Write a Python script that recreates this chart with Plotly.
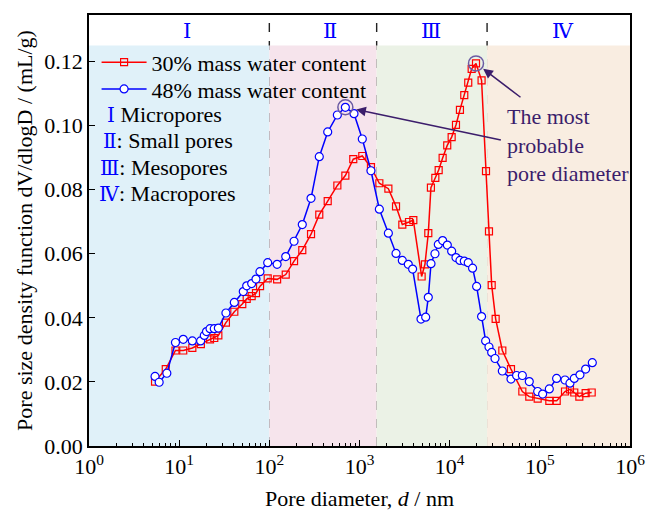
import numpy as np
import plotly.graph_objects as go

# Pore size distribution, 30 % mass water content
d_30 = [5.4, 7.1, 9.1, 11.1, 14.0, 17.4, 22.0, 24.5, 27.2, 33.0, 40.9, 50.1, 56.1, 63.7,
        71.1, 78.9, 95.9, 122, 152, 188, 232, 290, 358, 444, 568, 697, 853, 1074, 1340,
        1660, 2090, 2541, 2985, 3540, 3954, 4887, 5321, 5794, 6194, 6934, 7551, 8356,
        9397, 10520, 11750, 13000, 14520, 16070, 17540, 19590, 22590, 25290, 27290,
        29240, 32360, 38370, 47860, 63970, 76380, 94620, 127400, 153800, 190100,
        215800, 241000, 274200, 322100, 375800]
f_30 = [0.0201, 0.0240, 0.0298, 0.0298, 0.0306, 0.0318, 0.0333, 0.0337, 0.0345, 0.0385,
        0.0419, 0.0443, 0.0459, 0.0468, 0.0477, 0.0499, 0.0523, 0.0520, 0.0535, 0.0577,
        0.0611, 0.0661, 0.0722, 0.0764, 0.0813, 0.0844, 0.0895, 0.0905, 0.0870, 0.0820,
        0.0803, 0.0748, 0.0691, 0.0699, 0.0705, 0.0529, 0.0567, 0.0664, 0.0806, 0.0837,
        0.0861, 0.0899, 0.0938, 0.0964, 0.1002, 0.1049, 0.1095, 0.1134, 0.1177, 0.1194,
        0.1141, 0.0858, 0.0670, 0.0502, 0.0397, 0.0298, 0.0240, 0.0170, 0.0154, 0.0148,
        0.0141, 0.0141, 0.0170, 0.0177, 0.0167, 0.0154, 0.0165, 0.0167]

# Pore size distribution, 48 % mass water content
d_48 = [5.4, 6.0, 7.3, 9.1, 11.1, 14.0, 17.3, 19.0, 20.1, 22.0, 24.5, 27.2, 33.0, 40.9,
        51.4, 56.1, 63.7, 71.1, 78.7, 95.9, 122, 152, 188, 232, 290, 358, 444, 568, 697,
        869, 1074, 1340, 1660, 2090, 2541, 2985, 3475, 3882, 4808, 5420, 5794, 6209,
        6871, 7482, 8356, 9419, 10520, 11750, 13000, 14520, 16070, 17950, 19910, 22590,
        25060, 27290, 29240, 31840, 38370, 47860, 55210, 63970, 76380, 94620, 107400,
        127400, 153500, 190100, 215800, 241000, 278600, 322100, 381900]
f_48 = [0.0217, 0.0199, 0.0227, 0.0323, 0.0333, 0.0328, 0.0328, 0.0345, 0.0357, 0.0366,
        0.0366, 0.0368, 0.0415, 0.0448, 0.0482, 0.0500, 0.0507, 0.0521, 0.0544, 0.0572,
        0.0567, 0.0591, 0.0639, 0.0691, 0.0773, 0.0903, 0.0980, 0.1033, 0.1057, 0.1037,
        0.0958, 0.0859, 0.0739, 0.0664, 0.0601, 0.0579, 0.0567, 0.0552, 0.0396, 0.0402,
        0.0464, 0.0569, 0.0600, 0.0629, 0.0641, 0.0627, 0.0608, 0.0588, 0.0579, 0.0577,
        0.0572, 0.0555, 0.0498, 0.0404, 0.0328, 0.0309, 0.0292, 0.0273, 0.0234, 0.0209,
        0.0220, 0.0220, 0.0201, 0.0170, 0.0162, 0.0178, 0.0211, 0.0206, 0.0196, 0.0211,
        0.0222, 0.0240, 0.0260]

# Pore classes: boundaries (nm), labels, shading
class_bounds = [1, 100, 1550, 26000, 1e6]
class_labels = ["Ⅰ", "Ⅱ", "Ⅲ", "Ⅳ"]
class_names = ["Micropores", "Small pores", "Mesopores", "Macropores"]
class_fill = ["#e0f1f9", "#f6e4ec", "#ebf2e6", "#f9ede1"]
shade_top = 0.125

x_ticks = [10 ** k for k in range(0, 7)]
x_ticktext = [f"10<sup>{k}</sup>" for k in range(0, 7)]
y_ticks = [0.00, 0.02, 0.04, 0.06, 0.08, 0.10, 0.12]

FONT = "Liberation Serif"
NUM_FONT = "DejaVu Serif"
PURPLE = "#3b1d6b"
RED = "#ff0000"
BLUE = "#0000ff"

fig = go.Figure()

fig.add_trace(go.Scatter(
    x=d_30, y=f_30, mode="lines+markers", name="30% mass water content",
    line=dict(color=RED, width=1.5),
    marker=dict(symbol="square-open", size=7, color=RED, line=dict(width=1.2)),
    legend="legend"))
fig.add_trace(go.Scatter(
    x=d_48, y=f_48, mode="lines+markers", name="48% mass water content",
    line=dict(color=BLUE, width=1.5),
    marker=dict(symbol="circle", size=8, color="white", line=dict(color=BLUE, width=1.2)),
    legend="legend2"))

# Rings marking the most probable pore diameter of each curve
i30 = int(np.argmax(f_30))
i48 = int(np.argmax(f_48))
fig.add_trace(go.Scatter(
    x=[d_30[i30], d_48[i48]], y=[f_30[i30], f_48[i48]], mode="markers",
    marker=dict(symbol="circle-open", size=15, color="#6b5ba3", line=dict(width=1.5)),
    showlegend=False, hoverinfo="skip"))

shapes = []
for i in range(4):
    shapes.append(dict(type="rect", xref="x", yref="y",
                       x0=class_bounds[i], x1=class_bounds[i + 1],
                       y0=0, y1=shade_top, fillcolor=class_fill[i],
                       line=dict(width=0), layer="below"))
for b in class_bounds[1:-1]:
    shapes.append(dict(type="line", xref="x", yref="paper", x0=b, x1=b, y0=0, y1=1,
                       line=dict(color="#222222", width=1.4, dash="dash"), layer="below"))

annotations = []
# Class numerals along the top band
num_pos = [1.087, 2.67, 3.79, 5.26]
for lab, xp in zip(class_labels, num_pos):
    annotations.append(dict(x=xp, y=0.963, xref="x", yref="paper", text=lab,
                            yanchor="middle", showarrow=False,
                            font=dict(family=NUM_FONT, size=21, color=BLUE)))

# Class key below the legend
key_rows = [("Ⅰ", " Micropores", 0.029, 0.768),
            ("Ⅱ", ": Small pores", 0.022, 0.708),
            ("Ⅲ", ": Mesopores", 0.017, 0.646),
            ("Ⅳ", ": Macropores", 0.015, 0.586)]
for num, txt, xp, yp in key_rows:
    annotations.append(dict(x=xp, y=yp, xref="paper", yref="paper", xanchor="left",
                            yanchor="middle", showarrow=False,
                            text=(f"<span style='color:{BLUE};font-family:{NUM_FONT};"
                                  f"font-size:20px'>{num}</span>{txt}"),
                            font=dict(family=FONT, size=22, color="black")))

# Most probable pore diameter callout
annotations.append(dict(x=0.769, y=0.699, xref="paper", yref="paper", xanchor="left",
                        yanchor="middle", align="left", showarrow=False,
                        text="The most<br>probable<br>pore diameter",
                        font=dict(family=FONT, size=22, color=PURPLE)))
annotations.append(dict(x=np.log10(d_30[i30]), y=f_30[i30], xref="x", yref="y",
                        ax=46, ay=35, text="", showarrow=True, arrowhead=2,
                        arrowsize=1.3, arrowwidth=1.5, arrowcolor=PURPLE, standoff=9))
annotations.append(dict(x=np.log10(d_48[i48]), y=f_48[i48], xref="x", yref="y",
                        ax=157, ay=33, text="", showarrow=True, arrowhead=2,
                        arrowsize=1.3, arrowwidth=1.5, arrowcolor=PURPLE, standoff=11))

minor_vals = [m * 10 ** k for k in range(0, 6) for m in range(2, 10)]

legend_style = dict(xanchor="left", yanchor="middle", bgcolor="rgba(0,0,0,0)",
                    font=dict(family=FONT, size=22), itemwidth=45)

fig.update_layout(
    width=657, height=519,
    margin=dict(l=89, r=27, t=15, b=69),
    paper_bgcolor="white", plot_bgcolor="white",
    font=dict(family=FONT, size=22, color="black"),
    shapes=shapes, annotations=annotations,
    showlegend=True,
    legend=dict(x=0.014, y=0.890, **legend_style),
    legend2=dict(x=0.014, y=0.828, **legend_style),
    xaxis=dict(type="log", range=[0, 6], tickvals=x_ticks, ticktext=x_ticktext,
               ticks="inside", ticklen=6, tickwidth=1.2, tickcolor="black",
               showline=True, linecolor="black", linewidth=1.5, mirror=True,
               showgrid=False, zeroline=False,
               minor=dict(tickvals=minor_vals, ticks="inside", ticklen=3,
                          tickcolor="black", showgrid=False),
               title=dict(text="Pore diameter, <i>d</i> / nm", standoff=12,
                          font=dict(size=22))),
    yaxis=dict(range=[0, 0.1345], tickvals=y_ticks, tickformat=".2f",
               ticks="inside", ticklen=6, tickwidth=1.2, tickcolor="black",
               showline=True, linecolor="black", linewidth=1.5, mirror=True,
               showgrid=False, zeroline=False,
               title=dict(text="Pore size density function dV/dlogD / (mL/g)",
                          standoff=6, font=dict(size=22))),
)

fig.write_html("out.html")
